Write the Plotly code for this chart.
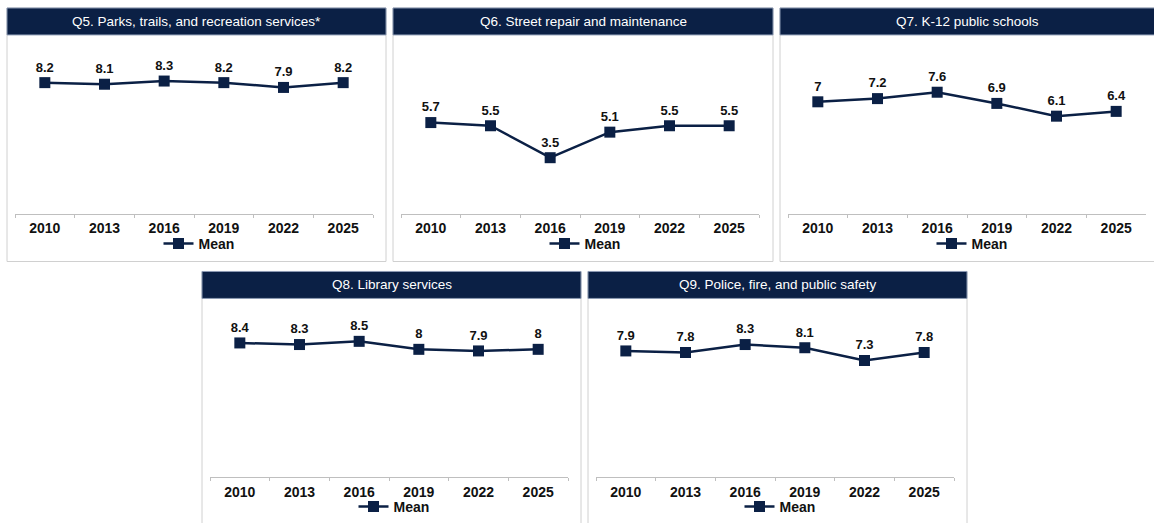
import plotly.graph_objects as go

W, H = 1154, 523

years = ['2010', '2013', '2016', '2019', '2022', '2025']

q5_mean = [8.2, 8.1, 8.3, 8.2, 7.9, 8.2]
q6_mean = [5.7, 5.5, 3.5, 5.1, 5.5, 5.5]
q7_mean = [7, 7.2, 7.6, 6.9, 6.1, 6.4]
q8_mean = [8.4, 8.3, 8.5, 8, 7.9, 8]
q9_mean = [7.9, 7.8, 8.3, 8.1, 7.3, 7.8]

titles = [
    'Q5. Parks, trails, and recreation services*',
    'Q6. Street repair and maintenance',
    'Q7. K-12 public schools',
    'Q8. Library services',
    'Q9. Police, fire, and public safety',
]
series = [q5_mean, q6_mean, q7_mean, q8_mean, q9_mean]

NAVY = '#0b2045'
FONT = 'Liberation Sans, Arial, sans-serif'

# panel boxes in pixels: left, top, right, bottom
panels = [
    (7, 8, 386, 262),
    (393, 8, 773, 262),
    (780, 8, 1160, 262),
    (202, 272, 581, 530),
    (588, 272, 967, 530),
]


def px(x):
    return x / W


def py(y):
    return 1 - y / H


fig = go.Figure()
shapes = []
annotations = []

for i, (vals, title, (l, t, r, b)) in enumerate(zip(series, titles, panels)):
    n = '' if i == 0 else str(i + 1)
    lg = 'legend' + n

    fig.add_trace(go.Scatter(
        x=years, y=vals,
        mode='lines+markers+text',
        name='Mean',
        text=[str(v) for v in vals],
        textposition='top center',
        textfont=dict(family=FONT, size=13, color='#111111', weight='bold'),
        line=dict(color=NAVY, width=2.5),
        marker=dict(symbol='square', size=11, color=NAVY),
        xaxis='x' + n, yaxis='y' + n,
        legend=lg,
        cliponaxis=False,
    ))

    # plot area sits 8px inside the panel, 46px below the top
    ax_top = t + 46
    ax_bot = t + 206
    fig.update_layout(**{
        'xaxis' + n: dict(
            domain=[px(l + 8), px(l + 366)],
            anchor='y' + n,
            type='category',
            range=[-0.5, len(years) - 0.5],
            showline=True, linecolor='#bfbfbf', linewidth=1,
            ticks='outside', tickson='boundaries', ticklen=3, tickcolor='#bfbfbf',
            ticklabelstandoff=2,
            showgrid=False, zeroline=False,
            tickfont=dict(family=FONT, size=14, color='#111111', weight='bold'),
            fixedrange=True,
        ),
        'yaxis' + n: dict(
            domain=[py(ax_bot), py(ax_top)],
            anchor='x' + n,
            range=[0, 10],
            visible=False,
            fixedrange=True,
        ),
        lg: dict(
            x=px((l + 8 + l + 366) / 2 + 5), y=py(t + 236),
            xanchor='center', yanchor='middle',
            orientation='h',
            font=dict(family=FONT, size=14, color='#111111', weight='bold'),
            bgcolor='rgba(0,0,0,0)',
            itemwidth=30,
        ),
    })

    # panel frame
    shapes.append(dict(
        type='rect', xref='paper', yref='paper',
        x0=px(l), x1=px(r), y0=py(b), y1=py(t),
        line=dict(color='#d0d0d0', width=1), fillcolor='rgba(0,0,0,0)',
        layer='below',
    ))
    # header bar
    shapes.append(dict(
        type='rect', xref='paper', yref='paper',
        x0=px(l), x1=px(r), y0=py(t + 27), y1=py(t),
        line=dict(color='#8c9ab3', width=1), fillcolor=NAVY,
        layer='below',
    ))
    annotations.append(dict(
        text=title, xref='paper', yref='paper',
        x=px((l + min(r, W)) / 2),
        y=py(t + 13.5),
        xanchor='center', yanchor='middle', showarrow=False,
        font=dict(family=FONT, size=13.5, color='white'),
    ))

fig.update_layout(
    width=W, height=H,
    margin=dict(l=0, r=0, t=0, b=0),
    paper_bgcolor='white', plot_bgcolor='white',
    shapes=shapes,
    annotations=annotations,
    showlegend=True,
)

# drop the browser's default body margin so the figure starts at the page corner
fig.write_html('out.html', config={'displayModeBar': False},
               post_script="document.body.style.margin='0';")
